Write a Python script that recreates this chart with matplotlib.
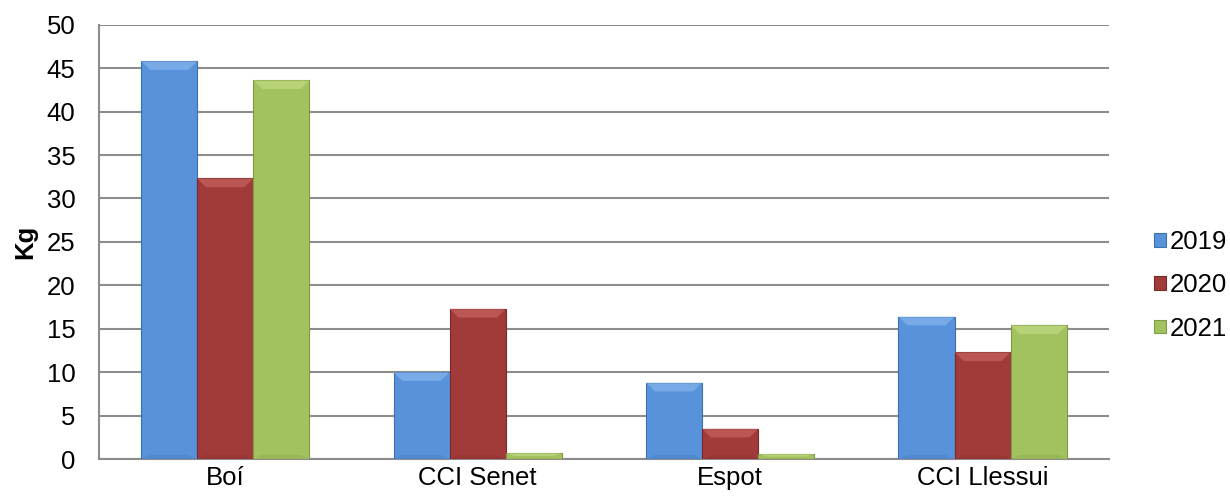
import numpy as np
import matplotlib
matplotlib.use("Agg")
import matplotlib.pyplot as plt
from matplotlib.patches import Polygon

plt.rcParams["font.family"] = ["Liberation Sans", "DejaVu Sans"]

sites = ["Boí", "CCI Senet", "Espot", "CCI Llessui"]
years = ["2019", "2020", "2021"]
kg_2019 = [45.8, 10.0, 8.8, 16.4]
kg_2020 = [32.3, 17.3, 3.5, 12.3]
kg_2021 = [43.6, 0.7, 0.6, 15.4]
series = [kg_2019, kg_2020, kg_2021]

face = ["#5892DA", "#A13B3A", "#A2C25F"]
light = ["#8CBBF0", "#CC6A68", "#C6DE88"]
dark = ["#3D6FAE", "#7A2828", "#7E9A44"]

fig = plt.figure(figsize=(12.3, 5.04), dpi=100)
ax = fig.add_axes([0.0805, 0.089, 0.821, 0.862])

x = np.arange(len(sites))
w = 1 / 4.5
for i, (vals, yr) in enumerate(zip(series, years)):
    pos = x + (i - 1) * w
    ax.bar(pos, vals, width=w, color=face[i], edgecolor=dark[i], linewidth=0.8,
           label=yr, zorder=3)
    # bevel highlight on top of each bar
    for p, v in zip(pos, vals):
        bx = w * 0.16
        by = min(1.0, v * 0.5)
        l, r = p - w / 2, p + w / 2
        ax.add_patch(Polygon([(l, v), (r, v), (r - bx, v - by), (l + bx, v - by)],
                             closed=True, facecolor=light[i], edgecolor="none",
                             alpha=0.6, zorder=4))
        ax.add_patch(Polygon([(l, 0), (r, 0), (r - bx, by * 0.5), (l + bx, by * 0.5)],
                             closed=True, facecolor=dark[i], edgecolor="none",
                             alpha=0.25, zorder=4))

ax.set_xlim(-0.5, len(sites) - 0.5)
ax.set_ylim(0, 50)
ax.set_yticks(np.arange(0, 51, 5))
ax.set_xticks(x)
ax.set_xticklabels(sites)
ax.tick_params(axis="both", length=0, labelsize=18.5)
ax.tick_params(axis="y", pad=17)
ax.tick_params(axis="x", pad=5)
ax.yaxis.grid(True, color="#8C8C8C", linewidth=1.5, zorder=0)
ax.set_axisbelow(True)
for s in ["top", "right"]:
    ax.spines[s].set_visible(False)
for s in ["left", "bottom"]:
    ax.spines[s].set_color("#8C8C8C")
    ax.spines[s].set_linewidth(1.5)
ax.set_ylabel("Kg", fontsize=18.5, fontweight="bold", labelpad=7)

leg = ax.legend(loc="center left", bbox_to_anchor=(1.035, 0.40), frameon=False,
                fontsize=18.5, handlelength=0.45, handleheight=0.45,
                handletextpad=0.15, labelspacing=0.75, borderaxespad=0)
for h in leg.legend_handles:
    h.set_linewidth(0.8)

fig.savefig("out.png", dpi=100)
